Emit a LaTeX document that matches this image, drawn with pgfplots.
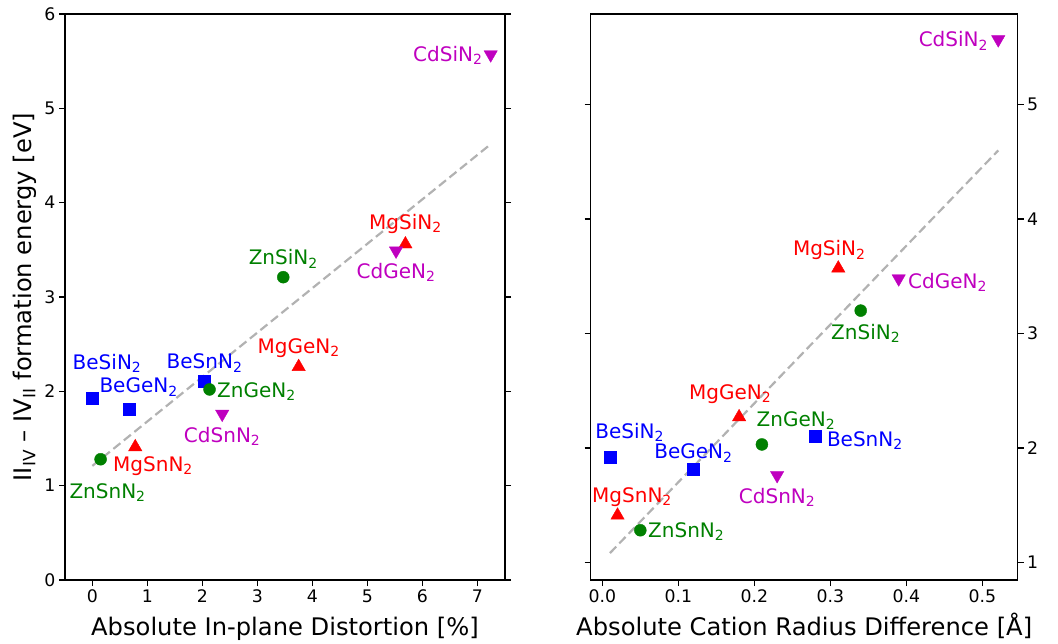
\documentclass[border=0pt]{standalone}
\usepackage{fontspec}
\setmainfont{DejaVu Sans}
\usepackage{pgfplots}
\pgfplotsset{compat=1.18}
\definecolor{mblue}{rgb}{0,0,1}
\definecolor{mgreen}{rgb}{0,0.5,0}
\definecolor{mred}{rgb}{1,0,0}
\definecolor{mmag}{rgb}{0.75,0,0.75}
\definecolor{fitgray}{rgb}{0.7,0.7,0.7}
\pgfplotsset{
  common/.style={
    scale only axis, height=566pt,
    axis line style={black, line width=1.4pt},
    every tick/.style={black, line width=1.4pt},
    major tick length=6pt,
    tick align=outside,
    xtick pos=bottom,
    ytick pos=both,
    tick label style={font=\fontsize{17.3}{20}\selectfont},
    /pgf/number format/assume math mode=true,
    label style={font=\fontsize{24.2}{28}\selectfont},
    clip=false,
  },
  sq/.style={only marks, mark=square*, mark size=6pt, mblue, mark options={solid}},
  ci/.style={only marks, mark=*, mark size=6pt, mgreen, mark options={solid}},
  tu/.style={only marks, mark=triangle*, mark size=7.7pt, mred, mark options={solid}},
  td/.style={only marks, mark=triangle*, mark size=7.7pt, mmag, mark options={solid, rotate=180}},
  fit/.style={no marks, fitgray, line width=2.2pt, dash pattern=on 9pt off 4.5pt},
}
\tikzset{lab/.style={font=\fontsize{20}{24}\selectfont, inner sep=0pt}}
\begin{document}
\begin{tikzpicture}
\useasboundingbox (0,0) rectangle (1058pt,643pt);
% ---------------- left panel ----------------
\begin{axis}[common, at={(65pt,63pt)}, anchor=south west, width=440pt,
  xmin=-0.497, xmax=7.5, ymin=0, ymax=6,
  xtick={0,1,...,7}, ytick={0,1,...,6},
  yticklabel pos=left,
  xlabel={Absolute In-plane Distortion [\%]},
  xlabel style={at={(axis description cs:0.5,-0.0972)}, anchor=base},
  ylabel={II\textsubscript{IV} – IV\textsubscript{II} formation energy [eV]},
  ylabel style={at={(axis description cs:-0.0909,0.5)}, anchor=center},
]
\addplot[fit] coordinates {(0,1.21) (7.24,4.62)};
\addplot[sq] coordinates {(0,1.93) (0.67,1.81) (2.04,2.11)};
\addplot[ci] coordinates {(3.47,3.21) (2.13,2.02) (0.15,1.28)};
\addplot[tu] coordinates {(5.69,3.56) (3.75,2.26) (0.78,1.41)};
\addplot[td] coordinates {(7.24,5.57) (5.52,3.49) (2.36,1.76)};
\node[lab, text=mmag, anchor=base east, xshift=-8pt, yshift=-7pt] at (axis cs:7.24,5.57) {CdSiN\textsubscript{2}};
\node[lab, text=mred, anchor=base, yshift=14.7pt] at (axis cs:5.69,3.56) {MgSiN\textsubscript{2}};
\node[lab, text=mmag, anchor=base, yshift=-27.6pt] at (axis cs:5.52,3.49) {CdGeN\textsubscript{2}};
\node[lab, text=mgreen, anchor=base, yshift=12.3pt] at (axis cs:3.47,3.21) {ZnSiN\textsubscript{2}};
\node[lab, text=mred, anchor=base, yshift=13.4pt] at (axis cs:3.75,2.26) {MgGeN\textsubscript{2}};
\node[lab, text=mblue, anchor=base, xshift=14.7pt, yshift=28.3pt] at (axis cs:0,1.93) {BeSiN\textsubscript{2}};
\node[lab, text=mblue, anchor=base, xshift=9.4pt, yshift=16.3pt] at (axis cs:0.67,1.81) {BeGeN\textsubscript{2}};
\node[lab, text=mblue, anchor=base, yshift=12pt] at (axis cs:2.04,2.11) {BeSnN\textsubscript{2}};
\node[lab, text=mgreen, anchor=base west, xshift=7.4pt, yshift=-8.3pt] at (axis cs:2.13,2.02) {ZnGeN\textsubscript{2}};
\node[lab, text=mmag, anchor=base, yshift=-28.4pt] at (axis cs:2.36,1.76) {CdSnN\textsubscript{2}};
\node[lab, text=mred, anchor=base, xshift=17.8pt, yshift=-24.7pt] at (axis cs:0.78,1.41) {MgSnN\textsubscript{2}};
\node[lab, text=mgreen, anchor=base, xshift=7pt, yshift=-39pt] at (axis cs:0.15,1.28) {ZnSnN\textsubscript{2}};
\end{axis}
% ---------------- right panel ----------------
\begin{axis}[common, at={(590.7pt,63pt)}, anchor=south west, width=427pt,
  xmin=-0.0153, xmax=0.5466, ymin=0.845, ymax=5.793,
  xtick={0,0.1,0.2,0.3,0.4,0.5},
  xticklabels={0.0,0.1,0.2,0.3,0.4,0.5},
  ytick={1,2,3,4,5},
  yticklabel pos=right,
  xlabel={Absolute Cation Radius Difference [Å]},
  xlabel style={at={(axis description cs:0.5,-0.0972)}, anchor=base},
]
\addplot[fit] coordinates {(0.01,1.08) (0.521,4.60)};
\addplot[sq] coordinates {(0.01,1.92) (0.12,1.81) (0.28,2.10)};
\addplot[ci] coordinates {(0.34,3.20) (0.21,2.03) (0.05,1.28)};
\addplot[tu] coordinates {(0.3105,3.57) (0.18,2.27) (0.02,1.41)};
\addplot[td] coordinates {(0.521,5.57) (0.39,3.48) (0.23,1.76)};
\node[lab, text=mmag, anchor=base east, xshift=-10pt, yshift=-7.4pt] at (axis cs:0.521,5.57) {CdSiN\textsubscript{2}};
\node[lab, text=mred, anchor=base, xshift=-9pt, yshift=12.3pt] at (axis cs:0.3105,3.57) {MgSiN\textsubscript{2}};
\node[lab, text=mmag, anchor=base west, xshift=9.3pt, yshift=-10pt] at (axis cs:0.39,3.48) {CdGeN\textsubscript{2}};
\node[lab, text=mgreen, anchor=base, xshift=5pt, yshift=-29pt] at (axis cs:0.34,3.20) {ZnSiN\textsubscript{2}};
\node[lab, text=mred, anchor=base, xshift=-9pt, yshift=17.3pt] at (axis cs:0.18,2.27) {MgGeN\textsubscript{2}};
\node[lab, text=mgreen, anchor=base, xshift=34pt, yshift=18.3pt] at (axis cs:0.21,2.03) {ZnGeN\textsubscript{2}};
\node[lab, text=mblue, anchor=base west, xshift=11.7pt, yshift=-10pt] at (axis cs:0.28,2.10) {BeSnN\textsubscript{2}};
\node[lab, text=mblue, anchor=base, xshift=19.7pt, yshift=18.4pt] at (axis cs:0.01,1.92) {BeSiN\textsubscript{2}};
\node[lab, text=mblue, anchor=base, yshift=10.7pt] at (axis cs:0.12,1.81) {BeGeN\textsubscript{2}};
\node[lab, text=mmag, anchor=base, yshift=-28.3pt] at (axis cs:0.23,1.76) {CdSnN\textsubscript{2}};
\node[lab, text=mred, anchor=base, xshift=14.5pt, yshift=13.3pt] at (axis cs:0.02,1.41) {MgSnN\textsubscript{2}};
\node[lab, text=mgreen, anchor=base west, xshift=7.7pt, yshift=-7.3pt] at (axis cs:0.05,1.28) {ZnSnN\textsubscript{2}};
\end{axis}
\end{tikzpicture}
\end{document}
